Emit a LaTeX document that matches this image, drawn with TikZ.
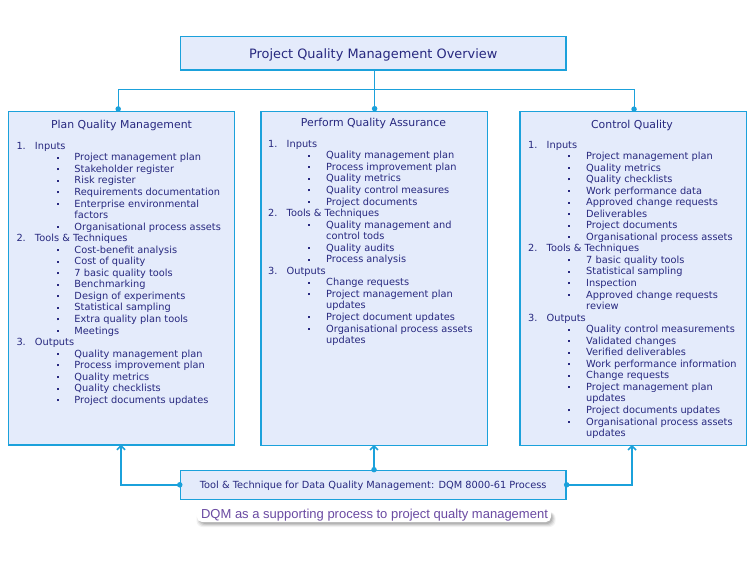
\documentclass[tikz,border=0pt]{standalone}
\usepackage{fontspec}
\setmainfont{DejaVu Sans}
\newfontfamily\capfont{Liberation Sans}
\usetikzlibrary{arrows.meta}
\definecolor{qfill}{HTML}{E4EBFB}
\definecolor{qline}{HTML}{1BA1DB}
\definecolor{qtext}{HTML}{27287F}
\definecolor{qpurple}{HTML}{6A4AA2}
\newcommand{\qnum}[2]{\makebox[18.5pt][l]{#1}#2\par}
\newcommand{\qbul}{\rule[2.2pt]{2pt}{2pt}}
\newcommand{\qitem}[1]{\hspace*{40pt}\makebox[18pt][l]{\qbul}#1\par}
\newcommand{\qcont}[1]{\hspace*{58pt}#1\par}
\newcommand{\qlist}[1]{\parbox[t]{215pt}{\fontsize{9.8pt}{11.545pt}\selectfont\parskip=0pt\parindent=0pt #1}}
\begin{document}
\begin{tikzpicture}[x=1pt,y=-1pt,
  box/.style={draw=qline, line width=1.2pt, fill=qfill, inner sep=0pt},
  conn/.style={draw=qline, line width=1pt},
  feed/.style={draw=qline, line width=1.8pt, shorten >=-1pt, -{Straight Barb[length=4pt,width=8pt,line width=1.6pt]}},
  dotc/.style={circle, fill=qline, inner sep=0pt, minimum size=5.5pt},
  head/.style={anchor=base, text=qtext, inner sep=0pt, font=\fontsize{10.9pt}{13pt}\selectfont},
  lst/.style={anchor=base west, text=qtext, inner sep=0pt}]
\useasboundingbox[fill=white] (0,0) rectangle (756,568);

% title
\node[box, minimum width=385.5pt, minimum height=33.3pt, text=qtext, text height=10.6pt, text depth=0pt,
      font=\fontsize{12.9pt}{15pt}\selectfont] (title) at (373.2,53.4) {Project Quality Management Overview};

% three process boxes
\node[box, minimum width=226.2pt, minimum height=333.5pt] (plan) at (121.4,278.3) {};
\node[box, minimum width=226.5pt, minimum height=333.5pt] (assure) at (374.25,278.5) {};
\node[box, minimum width=226.5pt, minimum height=333.5pt] (control) at (633.25,278.5) {};

% bottom box
\node[box, minimum width=385.7pt, minimum height=29pt, text=qtext, text height=7.5pt, text depth=0pt,
      font=\fontsize{9.8pt}{12pt}\selectfont] (dqm) at (373.2,484.8) {Tool \& Technique for Data Quality Management: DQM 8000-61 Process};

% headings
\node[head] (planh) at (121.5,128) {Plan Quality Management};
\node[head] (assureh) at (373.5,126.3) {Perform Quality Assurance};
\node[head] (controlh) at (632,128) {Control Quality};

% lists
\node[lst] (planl) at (16.3,149.3) {\qlist{%
\qnum{1.}{Inputs}
\qitem{Project management plan}
\qitem{Stakeholder register}
\qitem{Risk register}
\qitem{Requirements documentation}
\qitem{Enterprise environmental}
\qcont{factors}
\qitem{Organisational process assets}
\qnum{2.}{Tools \& Techniques}
\qitem{Cost-benefit analysis}
\qitem{Cost of quality}
\qitem{7 basic quality tools}
\qitem{Benchmarking}
\qitem{Design of experiments}
\qitem{Statistical sampling}
\qitem{Extra quality plan tools}
\qitem{Meetings}
\qnum{3.}{Outputs}
\qitem{Quality management plan}
\qitem{Process improvement plan}
\qitem{Quality metrics}
\qitem{Quality checklists}
\qitem{Project documents updates}}};

\node[lst] (assurel) at (268,147.3) {\qlist{%
\qnum{1.}{Inputs}
\qitem{Quality management plan}
\qitem{Process improvement plan}
\qitem{Quality metrics}
\qitem{Quality control measures}
\qitem{Project documents}
\qnum{2.}{Tools \& Techniques}
\qitem{Quality management and}
\qcont{control tods}
\qitem{Quality audits}
\qitem{Process analysis}
\qnum{3.}{Outputs}
\qitem{Change requests}
\qitem{Project management plan}
\qcont{updates}
\qitem{Project document updates}
\qitem{Organisational process assets}
\qcont{updates}}};

\node[lst] (controll) at (528,148) {\qlist{%
\qnum{1.}{Inputs}
\qitem{Project management plan}
\qitem{Quality metrics}
\qitem{Quality checklists}
\qitem{Work performance data}
\qitem{Approved change requests}
\qitem{Deliverables}
\qitem{Project documents}
\qitem{Organisational process assets}
\qnum{2.}{Tools \& Techniques}
\qitem{7 basic quality tools}
\qitem{Statistical sampling}
\qitem{Inspection}
\qitem{Approved change requests}
\qcont{review}
\qnum{3.}{Outputs}
\qitem{Quality control measurements}
\qitem{Validated changes}
\qitem{Verified deliverables}
\qitem{Work performance information}
\qitem{Change requests}
\qitem{Project management plan}
\qcont{updates}
\qitem{Project documents updates}
\qitem{Organisational process assets}
\qcont{updates}}};

% top connectors
\coordinate (hub) at (374.6,89.3);
\draw[conn] (title.south -| hub) -- (hub);
\draw[conn] (hub) -| ([xshift=-3.2pt]plan.north);
\draw[conn] (hub) -- (hub |- assure.north);
\draw[conn] (hub) -| ([xshift=0.8pt]control.north);
\node[dotc] (dplan) at ([xshift=-3.2pt,yshift=2pt]plan.north) {};
\node[dotc] (dassure) at ([yshift=2.5pt]hub |- assure.north) {};
\node[dotc] (dcontrol) at ([xshift=0.8pt,yshift=2pt]control.north) {};

% bottom feeds
\draw[feed] (dqm.west) -| ([xshift=-0.4pt]plan.south);
\draw[feed] ([xshift=0.8pt]dqm.north) -- ([xshift=0.8pt]dqm.north |- assure.south);
\draw[feed] (dqm.east) -| ([xshift=-1.2pt]control.south);
\node[dotc] (dw) at (dqm.west) {};
\node[dotc] (de) at (dqm.east) {};
\node[dotc] (dn) at ([xshift=0.8pt]dqm.north) {};

% caption: soft shadow below a white halo, then the text
\foreach \s/\o in {3.5/0.05,2.5/0.07,1.5/0.09,0.5/0.11}
  \fill[black, opacity=\o, rounded corners=6pt] (200-\s,512) rectangle (552+\s,523.5+\s);
\fill[white, rounded corners=5pt] (197,505) rectangle (551,522);
\node[inner sep=0pt, text=qpurple, font=\capfont\fontsize{13pt}{15pt}\selectfont] (caption) at (374.5,515) {DQM as a supporting process to project qualty management};
\end{tikzpicture}
\end{document}
